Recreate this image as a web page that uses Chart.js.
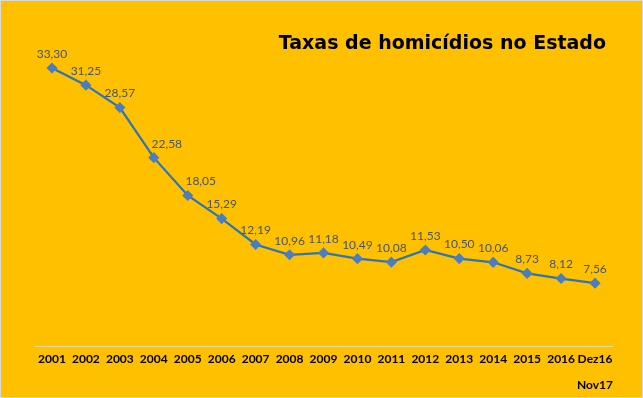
<!DOCTYPE html>
<html>
<head>
<meta charset="utf-8">
<script src="https://cdn.jsdelivr.net/npm/chart.js@4"></script>
<style>
  body { margin: 0; }
  #box {
    position: relative; width: 643px; height: 398px; box-sizing: border-box;
    background: #FFC000; border: 1px solid #d9d9d9;
  }
  #title {
    position: absolute; right: 36px; top: 30px;
    font: bold 19px "DejaVu Sans", Verdana, sans-serif; color: #000;
  }
  canvas { position: absolute; left: 0; top: 0; }
</style>
</head>
<body>
<div id="box">
  <canvas id="chart" width="641" height="396"></canvas>
  <div id="title">Taxas de homicídios no Estado</div>
</div>
<script>
// categories and series
const labels = ["2001", "2002", "2003", "2004", "2005", "2006", "2007", "2008", "2009",
  "2010", "2011", "2012", "2013", "2014", "2015", "2016", ["Dez16", "", "Nov17"]];
const rates = [33.30, 31.25, 28.57, 22.58, 18.05, 15.29, 12.19, 10.96, 11.18,
  10.49, 10.08, 11.53, 10.50, 10.06, 8.73, 8.12, 7.56];

// draws "33,30" style labels over each point
const valueLabels = {
  id: "valueLabels",
  afterDatasetsDraw(chart) {
    const ctx = chart.ctx;
    const meta = chart.getDatasetMeta(0);
    ctx.save();
    ctx.font = "12px Lato, sans-serif";
    ctx.fillStyle = "#44546A";
    ctx.textAlign = "center";
    ctx.textBaseline = "bottom";
    meta.data.forEach((pt, i) => {
      const v = rates[i];
      const drop = i > 0 ? rates[i - 1] - v : 0;
      const dx = drop > 4 ? 13 : 0;
      ctx.fillText(v.toFixed(2).replace(".", ","), pt.x + dx, pt.y - 8);
    });
    ctx.restore();
  }
};

new Chart(document.getElementById("chart"), {
  type: "line",
  data: {
    labels: labels,
    datasets: [{
      data: rates,
      borderColor: "#2E75B6",
      borderWidth: 2.25,
      pointStyle: "rectRot",
      pointRadius: 4,
      pointBackgroundColor: "#4A7EC0",
      pointBorderColor: "#4A7EC0",
      tension: 0
    }]
  },
  options: {
    responsive: false,
    animation: false,
    layout: { padding: { left: 34, right: 30, top: 11, bottom: 7 } },
    plugins: { legend: { display: false }, tooltip: { enabled: false } },
    scales: {
      y: { display: false, min: 0, max: 40 },
      x: {
        offset: true,
        grid: { display: false, offset: true },
        border: { color: "#e8d9a8", width: 1 },
        ticks: {
          color: "#000",
          padding: -2,
          maxRotation: 0,
          autoSkip: false,
          font: { family: "Lato, sans-serif", size: 12, weight: "bold", lineHeight: 1.1 }
        }
      }
    }
  },
  plugins: [valueLabels]
});
</script>
</body>
</html>
